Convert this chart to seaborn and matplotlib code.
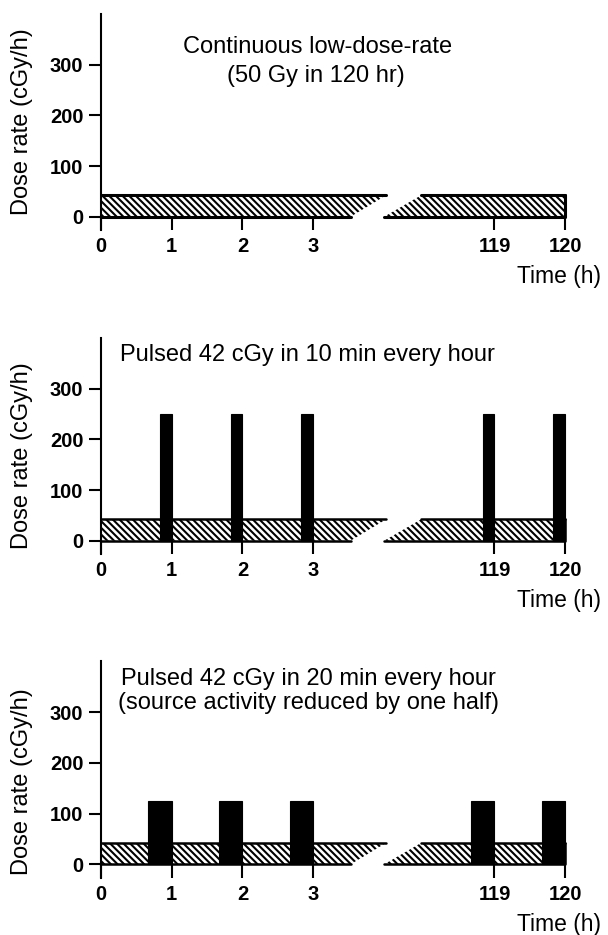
import matplotlib
matplotlib.use("Agg")
import matplotlib.pyplot as plt
from matplotlib.patches import Polygon
import pandas as pd
import seaborn as sns

# ---------------- data ----------------
panel_titles = [
    ["Continuous low-dose-rate", "(50 Gy in 120 hr)"],
    ["Pulsed 42 cGy in 10 min every hour"],
    ["Pulsed 42 cGy in 20 min every hour", "(source activity reduced by one half)"],
]
continuous_rate = [42, 42, 42]      # cGy/h, hatched background level
pulse_rate = [0, 250, 125]          # cGy/h during the pulse
pulse_minutes = [0, 10, 20]         # pulse length
pulse_hours_left = [1, 2, 3]        # pulses end at these hours
pulse_hours_right = [119, 120]
xticks_left = [0, 1, 2, 3]
xticks_right = [119, 120]
yticks = [0, 100, 200, 300]
ylabel = "Dose rate (cGy/h)"
xlabel = "Time (h)"

# ---------------- layout ----------------
W, H, DPI = 608, 935, 100
PXH = 70.7          # px per hour
PXV = 0.507         # px per cGy/h
X0 = 101            # px of t = 0
X119 = 494.5        # px of t = 119
YMIN, YMAX = -27, 400
zero_px = [216.7, 540.7, 864.3]
LEFT_END = 4.0
RIGHT_START, RIGHT_END = 117.4, 120.5
BRK_BOT_L, BRK_TOP_L = 3.53, 4.03
BRK_BOT_R, BRK_TOP_R = 117.44, 117.96
title_pos = [[(318, 47, "center"), (316, 76, "center")],
             [(120, 355, "left")],
             [(308, 679, "center"), (308, 703, "center")]]
ylabel_y = [122, 456, 782]

sns.set_style("ticks")
plt.rcParams["font.family"] = ["Liberation Sans", "DejaVu Sans"]
plt.rcParams["hatch.linewidth"] = 1.5
for k in ("text.color", "axes.labelcolor", "xtick.color", "ytick.color",
          "axes.edgecolor"):
    plt.rcParams[k] = "black"

fig = plt.figure(figsize=(W / DPI, H / DPI), dpi=DPI)


def px_axes(left, top, width, height):
    return fig.add_axes([left / W, 1 - (top + height) / H, width / W, height / H])


HATCH = "\\" * 5

for i in range(3):
    z = zero_px[i]
    top = z - YMAX * PXV
    hgt = (YMAX - YMIN) * PXV
    axL = px_axes(X0, top, LEFT_END * PXH, hgt)
    axR = px_axes(X119 - (119 - RIGHT_START) * PXH, top,
                  (RIGHT_END - RIGHT_START) * PXH, hgt)
    r = continuous_rate[i]
    lw_out = 2.2 if i == 0 else 1.8

    # hatched continuous background
    axL.add_patch(Polygon([(0, 0), (0, r), (BRK_TOP_L, r), (BRK_BOT_L, 0)],
                          closed=True, facecolor="white", edgecolor="black",
                          linewidth=0, hatch=HATCH, clip_on=False, zorder=1))
    axR.add_patch(Polygon([(BRK_BOT_R, 0), (BRK_TOP_R, r), (120, r), (120, 0)],
                          closed=True, facecolor="white", edgecolor="black",
                          linewidth=0, hatch=HATCH, clip_on=False, zorder=1))

    outL = pd.DataFrame({"t": [0, BRK_TOP_L, 0, BRK_BOT_L],
                         "v": [r, r, 0, 0], "seg": [0, 0, 1, 1]})
    outR = pd.DataFrame({"t": [BRK_TOP_R, 120, 120, 120, BRK_BOT_R],
                         "v": [r, r, r, 0, 0], "seg": [0, 0, 1, 1, 1]})
    for ax, df in ((axL, outL), (axR, outR)):
        for _, g in df.groupby("seg"):
            sns.lineplot(data=g, x="t", y="v", ax=ax, color="black",
                         linewidth=lw_out, sort=False, estimator=None,
                         clip_on=False, zorder=2, legend=False)

    # pulses
    if pulse_rate[i] > 0:
        dur = pulse_minutes[i] / 60.0
        for ax, hrs in ((axL, pulse_hours_left), (axR, pulse_hours_right)):
            ax.bar([h - dur for h in hrs], pulse_rate[i], width=dur,
                   align="edge", color="black", edgecolor="black",
                   linewidth=0.8, zorder=3, clip_on=False)

    for ax, lim, ticks in ((axL, (0, LEFT_END), xticks_left),
                           (axR, (RIGHT_START, RIGHT_END), xticks_right)):
        ax.set_facecolor("none")
        ax.set_xlim(*lim)
        ax.set_ylim(YMIN, YMAX)
        ax.set_xticks(ticks)
        ax.set_xticklabels([str(t) for t in ticks], fontsize=14.5,
                           fontweight="bold")
        ax.tick_params(axis="x", direction="in", length=9.5, width=1.5,
                       pad=5, color="black")
        ax.set_xlabel("")
        ax.set_ylabel("")
        for s in ("top", "right", "bottom"):
            ax.spines[s].set_visible(False)

    axL.spines["left"].set_linewidth(1.5)
    axL.set_yticks(yticks)
    axL.set_yticklabels([str(t) for t in yticks], fontsize=14.5,
                        fontweight="bold")
    axL.tick_params(axis="y", direction="out", length=8.6, width=1.5, pad=4)
    axR.spines["left"].set_visible(False)
    axR.set_yticks([])

    for (px, py, ha), txt in zip(title_pos[i], panel_titles[i]):
        fig.text(px / W, 1 - py / H, txt, ha=ha, va="center", fontsize=17)
    fig.text(601 / W, 1 - (z + 60) / H, xlabel, ha="right", va="center",
             fontsize=16.5)
    fig.text(22 / W, 1 - ylabel_y[i] / H, ylabel, ha="center", va="center",
             rotation=90, fontsize=17)

fig.savefig("out.png", dpi=DPI)
